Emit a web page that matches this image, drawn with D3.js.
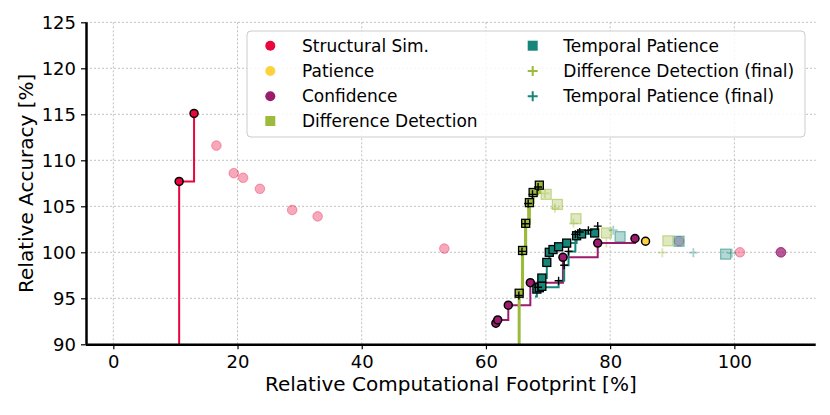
<!DOCTYPE html>
<html>
<head>
<meta charset="utf-8">
<script src="https://cdn.jsdelivr.net/npm/d3@7"></script>
<style>
  html, body { margin: 0; padding: 0; background: #fff; }
  svg { display: block; font-family: "DejaVu Sans", sans-serif; }
</style>
</head>
<body>
<svg id="chart" width="830" height="415"></svg>
<script>
// ---------------- data ----------------
const xTicks = [0, 20, 40, 60, 80, 100];
const yTicks = [90, 95, 100, 105, 110, 115, 120, 125];

// Structural Similarity
const ssParetoX = [10.6, 13.0];
const ssParetoY = [107.7, 115.1];
const ssOtherX = [16.6, 19.4, 20.9, 23.6, 28.8, 32.9, 53.3, 100.9];
const ssOtherY = [111.6, 108.6, 108.1, 106.9, 104.6, 103.9, 100.4, 100.0];
const ssLineStart = 80;

// Patience
const patParetoX = [85.7];
const patParetoY = [101.2];

// Confidence
const confParetoX = [61.6, 61.9, 63.6, 67.15, 72.4, 78.0, 84.0];
const confParetoY = [92.3, 92.65, 94.25, 96.7, 99.45, 101.0, 101.5];
const confOtherX = [91.1, 107.5, 107.5, 107.5];
const confOtherY = [101.2, 100.0, 100.0, 100.0];

// Difference Detection
const ddParetoX = [65.35, 65.9, 66.4, 67.0, 67.6, 68.6];
const ddParetoY = [95.55, 100.2, 103.15, 105.4, 106.5, 107.3];
const ddLineStart = 80;
const ddOtherX = [69.7, 71.5, 74.5, 79.4, 89.3];
const ddOtherY = [106.3, 105.2, 103.65, 102.1, 101.25];
const ddFinalParetoX = [65.3, 65.8, 66.3, 66.8, 67.5, 68.4];
const ddFinalParetoY = [95.3, 100.1, 103.1, 105.3, 106.3, 107.1];
const ddFinalOtherX = [69.5, 71.1, 74.1, 79.4, 88.4];
const ddFinalOtherY = [106.4, 104.8, 103.15, 101.0, 99.96];

// Temporal Patience
const tpParetoX = [68.2, 68.6, 69.0, 69.0, 69.8, 70.2, 70.8, 71.7, 73.0, 74.6, 75.4, 77.5];
const tpParetoY = [96.0, 96.15, 96.3, 97.2, 98.9, 100.0, 100.3, 100.6, 101.0, 101.8, 102.0, 102.1];
const tpLineStart = 95.2;
const tpOtherX = [81.6, 91.1, 98.6];
const tpOtherY = [101.7, 101.2, 99.8];
const tpFinalParetoX = [68.4, 71.7, 72.6, 73.3, 74.4, 75.1, 76.5, 78.0];
const tpFinalParetoY = [96.2, 96.9, 98.6, 100.1, 101.95, 102.2, 102.4, 102.85];
const tpFinalOtherX = [80.5, 93.4, 99.6];
const tpFinalOtherY = [102.4, 99.96, 99.9];

const legendLabels = ["Structural Sim.", "Patience", "Confidence", "Difference Detection",
  "Temporal Patience", "Difference Detection (final)", "Temporal Patience (final)"];

const C = {
  ss: "#e8063c", pat: "#fdd23d", conf: "#9b1b6f", dd: "#9cba3c", tp: "#14867a"
};

// ---------------- setup ----------------
const svg = d3.select("#chart");
const x = d3.scaleLinear().domain([-4.4, 113.1]).range([86, 815.7]);
const y = d3.scaleLinear().domain([90, 125]).range([344.3, 22.3]);
const zip = (a, b) => a.map((v, i) => [v, b[i]]);

svg.append("defs").append("clipPath").attr("id", "clip")
  .append("rect").attr("x", 86).attr("y", 22.3).attr("width", 815.7 - 86).attr("height", 344.3 - 22.3);

// grid
const grid = svg.append("g");
grid.selectAll(".gx").data(xTicks).enter().append("line")
  .attr("x1", d => x(d)).attr("x2", d => x(d)).attr("y1", y(125)).attr("y2", y(90))
  .attr("stroke", "#b0b0b0").attr("stroke-width", 0.8).attr("stroke-dasharray", "2,2");
grid.selectAll(".gy").data(yTicks).enter().append("line")
  .attr("x1", x.range()[0]).attr("x2", x.range()[1]).attr("y1", d => y(d)).attr("y2", d => y(d))
  .attr("stroke", "#b0b0b0").attr("stroke-width", 0.8).attr("stroke-dasharray", "2,2");

const plot = svg.append("g").attr("clip-path", "url(#clip)");

// marker helpers
function circles(pts, color, opts) {
  plot.append("g").selectAll("circle").data(pts).enter().append("circle")
    .attr("cx", d => x(d[0])).attr("cy", d => y(d[1]))
    .attr("r", opts.r)
    .attr("fill", color).attr("fill-opacity", opts.fo)
    .attr("stroke", opts.stroke).attr("stroke-opacity", opts.so)
    .attr("stroke-width", opts.sw);
}
function squares(pts, color, opts) {
  plot.append("g").selectAll("rect").data(pts).enter().append("rect")
    .attr("x", d => x(d[0]) - opts.s / 2).attr("y", d => y(d[1]) - opts.s / 2)
    .attr("width", opts.s).attr("height", opts.s)
    .attr("fill", color).attr("fill-opacity", opts.fo)
    .attr("stroke", opts.stroke).attr("stroke-opacity", opts.so)
    .attr("stroke-width", opts.sw);
}
function pluses(pts, color, opts) {
  const g = plot.append("g");
  g.selectAll("path").data(pts).enter().append("path")
    .attr("d", d => {
      const cx = x(d[0]), cy = y(d[1]), h = opts.s / 2;
      return `M${cx - h},${cy}H${cx + h}M${cx},${cy - h}V${cy + h}`;
    })
    .attr("stroke", color).attr("stroke-opacity", opts.so)
    .attr("stroke-width", opts.sw).attr("fill", "none");
}
function stepLine(pts, color, w) {
  const line = d3.line().x(d => x(d[0])).y(d => y(d[1])).curve(d3.curveStepAfter);
  plot.append("path").datum(pts).attr("d", line)
    .attr("fill", "none").attr("stroke", color).attr("stroke-width", w);
}

const fadedC = { r: 4.8, fo: 0.35, stroke: null, so: 0.35, sw: 1 };
const fadedS = { s: 10, fo: 0.32, stroke: null, so: 0.55, sw: 1.2 };
const fadedP = { s: 9, so: 0.38, sw: 1.8 };

// faded (non-pareto) points
circles(zip(ssOtherX, ssOtherY), C.ss, Object.assign({}, fadedC, { stroke: C.ss }));
circles(zip(confOtherX, confOtherY), C.conf, Object.assign({}, fadedC, { stroke: C.conf }));
squares(zip(ddOtherX, ddOtherY), C.dd, Object.assign({}, fadedS, { stroke: C.dd }));
squares(zip(tpOtherX, tpOtherY), C.tp, Object.assign({}, fadedS, { stroke: C.tp }));
pluses(zip(ddFinalOtherX, ddFinalOtherY), C.dd, fadedP);
pluses(zip(tpFinalOtherX, tpFinalOtherY), C.tp, fadedP);

// pareto step lines
stepLine([[ssParetoX[0], ssLineStart]].concat(zip(ssParetoX, ssParetoY)), C.ss, 2);
stepLine(zip(confParetoX, confParetoY), C.conf, 2);
stepLine([[ddParetoX[0], ddLineStart]].concat(zip(ddParetoX, ddParetoY)), C.dd, 3);
stepLine(zip(ddFinalParetoX, ddFinalParetoY), C.dd, 2);
stepLine([[tpParetoX[0] - 0.3, tpLineStart]].concat(zip(tpParetoX, tpParetoY)), C.tp, 2);
stepLine(zip(tpFinalParetoX, tpFinalParetoY), C.tp, 2);

// pareto markers
const parC = { r: 4, fo: 1, stroke: "#000", so: 1, sw: 1.5 };
const parS = { s: 8, fo: 1, stroke: "#000", so: 1, sw: 1.3 };
const parP = { s: 8, so: 1, sw: 1.4 };
circles(zip(ssParetoX, ssParetoY), C.ss, parC);
circles(zip(patParetoX, patParetoY), C.pat, parC);
circles(zip(confParetoX, confParetoY), C.conf, parC);
squares(zip(ddParetoX, ddParetoY), C.dd, parS);
squares(zip(tpParetoX, tpParetoY), C.tp, parS);
pluses(zip(ddFinalParetoX, ddFinalParetoY), "#000", parP);
pluses(zip(tpFinalParetoX, tpFinalParetoY), "#000", parP);

// ---------------- axes ----------------
const xAxis = svg.append("g").attr("transform", `translate(0,${y(90)})`)
  .call(d3.axisBottom(x).tickValues(xTicks).tickSize(5).tickPadding(6).tickFormat(d3.format("d")));
const yAxis = svg.append("g").attr("transform", `translate(${x.range()[0]},0)`)
  .call(d3.axisLeft(y).tickValues(yTicks).tickSize(5).tickPadding(5).tickFormat(d3.format("d")));
[xAxis, yAxis].forEach(a => {
  a.select(".domain").attr("stroke", "#000").attr("stroke-width", 2.5);
  a.selectAll(".tick line").attr("stroke", "#000").attr("stroke-width", 1.2);
  a.selectAll(".tick text").attr("fill", "#000")
    .style("font-size", "18px").style("font-family", "DejaVu Sans, sans-serif");
});
xAxis.select(".domain").attr("d", `M${x.range()[0]},0.5H${x.range()[1]}`);
yAxis.select(".domain").attr("d", `M0.5,${y.range()[0]}V${y.range()[1]}`);

svg.append("text").attr("x", (x.range()[0] + x.range()[1]) / 2).attr("y", 391)
  .attr("text-anchor", "middle").style("font-size", "20px").attr("fill", "#000")
  .text("Relative Computational Footprint [%]");
svg.append("text").attr("transform", `translate(33,${(y.range()[0] + y.range()[1]) / 2}) rotate(-90)`)
  .attr("text-anchor", "middle").style("font-size", "20px").attr("fill", "#000")
  .text("Relative Accuracy [%]");

// ---------------- legend ----------------
const lg = svg.append("g");
lg.append("rect").attr("x", 247).attr("y", 31).attr("width", 558).attr("height", 106)
  .attr("rx", 4).attr("fill", "#fff").attr("fill-opacity", 0.85)
  .attr("stroke", "#cccccc").attr("stroke-width", 1);
const legendKinds = [
  { t: "c", c: C.ss }, { t: "c", c: C.pat }, { t: "c", c: C.conf }, { t: "s", c: C.dd },
  { t: "s", c: C.tp }, { t: "p", c: C.dd }, { t: "p", c: C.tp }
];
const colX = [270.3, 532.7], txtX = [302, 563.3];
const rowY = [45.7, 71, 96.3, 121];
legendLabels.forEach((lab, i) => {
  const col = i < 4 ? 0 : 1, row = i < 4 ? i : i - 4;
  const mx = colX[col], my = rowY[row], k = legendKinds[i];
  if (k.t === "c") lg.append("circle").attr("cx", mx).attr("cy", my).attr("r", 5).attr("fill", k.c);
  else if (k.t === "s") lg.append("rect").attr("x", mx - 5).attr("y", my - 5).attr("width", 10).attr("height", 10).attr("fill", k.c);
  else lg.append("path").attr("d", `M${mx - 5},${my}H${mx + 5}M${mx},${my - 5}V${my + 5}`)
    .attr("stroke", k.c).attr("stroke-width", 2);
  lg.append("text").attr("x", txtX[col]).attr("y", my).attr("dy", "0.36em")
    .style("font-size", "17px").attr("fill", "#000").text(lab);
});
</script>
</body>
</html>
